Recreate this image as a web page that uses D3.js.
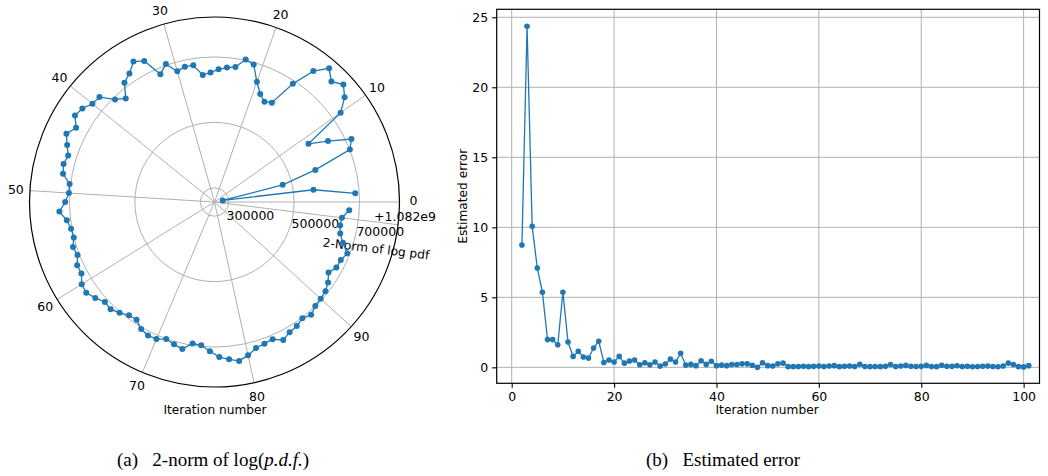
<!DOCTYPE html>
<html lang="en">
<head>
<meta charset="utf-8">
<title>2-norm of log pdf / Estimated error</title>
<style>
    body { margin: 0; background: #fff; }
    svg text { font-family: "DejaVu Sans", sans-serif; fill: #000; }
    .caption { font-family: "Liberation Serif", "Times New Roman", serif; }
</style>
<script src="https://d3js.org/d3.v7.min.js"></script>
</head>
<body>
<svg></svg>
<script>
    const width = 1048;
    const height = 476;

    // ---- data ----
    // iterations shown around the polar plot
    const polarIters = d3.range(1, 102);
    // 2-norm of log pdf, minus the 1.082e9 offset, one value per iteration 1..101
    const normOffset = 1.082e9;
    const normValues = [
        687800, 561500, 282300, 471600, 580100, 700600, 717500, 650500, 594500, 729100,
        767300, 789900, 770100, 795100, 758100, 690200, 607400, 599400, 615300, 646500,
        693900, 702800, 674600, 669400, 662700, 652600, 646500, 679500, 680200, 672500,
        703700, 681100, 738600, 752300, 727600, 713500, 673700, 693600, 732700, 735800,
        751700, 758400, 737000, 755100, 739800, 726300, 732500, 727900, 703100, 702500,
        713200, 731800, 711600, 702800, 700300, 710700, 705800, 719000, 718400, 734300,
        737000, 724500, 710100, 712900, 702800, 690500, 688100, 705200, 712900, 711900,
        700900, 709200, 716500, 694500, 696700, 713200, 730900, 739800, 748300, 736700,
        720800, 715900, 712300, 728200, 716200, 711900, 702500, 710700, 699400, 696000,
        692100, 682000, 666700, 679500, 681700, 692100, 668800, 653000, 647400, 649300,
        669400
    ];
    const thetaTicks = d3.range(0, 101, 10);
    const thetaLabels = ["0", "10", "20", "30", "40", "50", "60", "70", "80", "90", ""];
    const radialTicks = [300000, 500000, 700000];

    // estimated error, iterations 2..101
    const errorIters = d3.range(2, 102);
    const errorValues = [
        8.74, 24.36, 10.07, 7.09, 5.36, 1.98, 1.98, 1.61, 5.36, 1.81,
        0.78, 1.14, 0.74, 0.66, 1.38, 1.86, 0.35, 0.52, 0.38, 0.78,
        0.30, 0.45, 0.52, 0.19, 0.33, 0.19, 0.38, 0.09, 0.24, 0.59,
        0.38, 1.00, 0.16, 0.21, 0.12, 0.47, 0.21, 0.43, 0.12, 0.16,
        0.12, 0.20, 0.20, 0.25, 0.25, 0.15, 0.00, 0.33, 0.12, 0.10,
        0.25, 0.30, 0.05, 0.05, 0.06, 0.08, 0.05, 0.07, 0.10, 0.06,
        0.10, 0.12, 0.05, 0.08, 0.10, 0.06, 0.22, 0.06, 0.05, 0.06,
        0.05, 0.08, 0.20, 0.06, 0.10, 0.14, 0.08, 0.06, 0.07, 0.14,
        0.06, 0.05, 0.15, 0.08, 0.07, 0.11, 0.06, 0.08, 0.04, 0.06,
        0.08, 0.09, 0.06, 0.04, 0.10, 0.30, 0.20, 0.05, 0.03, 0.12
    ];
    const errXTicks = [0, 20, 40, 60, 80, 100];
    const errYTicks = [0, 5, 10, 15, 20, 25];

    const blue = "#1f77b4";
    const gridColor = "#b0b0b0";

    const svg = d3.select("svg").attr("width", width).attr("height", height);
    svg.append("rect").attr("width", width).attr("height", height).attr("fill", "#fff");

    // ---- (a) polar plot ----
    const cx = 214.5, cy = 202, R = 185;
    const polar = svg.append("g");

    const theta = d3.scaleLinear().domain([0, 102]).range([0, 2 * Math.PI]);
    const rScale = d3.scaleLinear()
        .domain([normOffset + 256600, normOffset + 822300])
        .range([0, R]);

    const px = (t, r) => cx + r * Math.cos(theta(t));
    const py = (t, r) => cy - r * Math.sin(theta(t));

    polar.selectAll(".rgrid")
        .data(radialTicks)
        .enter().append("circle")
        .attr("cx", cx).attr("cy", cy)
        .attr("r", d => rScale(normOffset + d))
        .attr("fill", "none")
        .attr("stroke", gridColor)
        .attr("stroke-width", 1);

    polar.selectAll(".tgrid")
        .data(thetaTicks)
        .enter().append("line")
        .attr("x1", cx).attr("y1", cy)
        .attr("x2", d => px(d, R)).attr("y2", d => py(d, R))
        .attr("stroke", gridColor)
        .attr("stroke-width", 1);

    polar.append("circle")
        .attr("cx", cx).attr("cy", cy).attr("r", R)
        .attr("fill", "none")
        .attr("stroke", "#000")
        .attr("stroke-width", 1.2);

    polar.selectAll(".tlabel")
        .data(thetaTicks)
        .enter().append("text")
        .attr("x", d => px(d, R + 14))
        .attr("y", d => py(d, R + 14) - (d === 0 ? 1.5 : 0))
        .attr("text-anchor", "middle")
        .attr("dominant-baseline", "central")
        .style("font-size", "12.5px")
        .text((d, i) => thetaLabels[i]);

    // radial tick labels sit along the last grid spoke
    polar.selectAll(".rlabel")
        .data(radialTicks)
        .enter().append("text")
        .attr("x", d => px(100, rScale(normOffset + d)) - 2)
        .attr("y", d => py(100, rScale(normOffset + d)) + 11.5)
        .attr("dominant-baseline", "central")
        .style("font-size", "12.5px")
        .text(d => d);

    polar.append("text")
        .attr("x", 436).attr("y", 216.5)
        .attr("text-anchor", "end")
        .attr("dominant-baseline", "central")
        .style("font-size", "12.5px")
        .text("+1.082e9");

    polar.append("text")
        .attr("transform", "translate(376,249) rotate(7)")
        .attr("text-anchor", "middle")
        .attr("dominant-baseline", "central")
        .style("font-size", "12.2px")
        .text("2-Norm of log pdf");

    polar.append("text")
        .attr("x", 215).attr("y", 410)
        .attr("text-anchor", "middle")
        .attr("dominant-baseline", "central")
        .style("font-size", "12.2px")
        .text("Iteration number");

    const polarData = polarIters.map((t, i) => ({t: t, v: normOffset + normValues[i]}));
    const polarLine = d3.line()
        .x(d => px(d.t, rScale(d.v)))
        .y(d => py(d.t, rScale(d.v)));

    polar.append("path")
        .datum(polarData)
        .attr("d", polarLine)
        .attr("fill", "none")
        .attr("stroke", blue)
        .attr("stroke-width", 1.3);

    polar.selectAll(".pdot")
        .data(polarData)
        .enter().append("circle")
        .attr("cx", d => px(d.t, rScale(d.v)))
        .attr("cy", d => py(d.t, rScale(d.v)))
        .attr("r", 3)
        .attr("fill", blue);

    // ---- (b) estimated error ----
    const plotL = 496.7, plotR = 1039.5, plotT = 9.3, plotB = 383.3;
    const x = d3.scaleLinear().domain([-2.93, 103.1]).range([plotL, plotR]);
    const y = d3.scaleLinear().domain([-1.14, 25.57]).range([plotB, plotT]);
    const err = svg.append("g");

    err.selectAll(".xgrid")
        .data(errXTicks)
        .enter().append("line")
        .attr("x1", d => x(d)).attr("x2", d => x(d))
        .attr("y1", plotT).attr("y2", plotB)
        .attr("stroke", gridColor).attr("stroke-width", 1);

    err.selectAll(".ygrid")
        .data(errYTicks)
        .enter().append("line")
        .attr("x1", plotL).attr("x2", plotR)
        .attr("y1", d => y(d)).attr("y2", d => y(d))
        .attr("stroke", gridColor).attr("stroke-width", 1);

    const xAxis = err.append("g")
        .attr("transform", `translate(0,${plotB})`)
        .call(d3.axisBottom(x).tickValues(errXTicks).tickSize(4.5).tickPadding(4));
    const yAxis = err.append("g")
        .attr("transform", `translate(${plotL},0)`)
        .call(d3.axisLeft(y).tickValues(errYTicks).tickSize(4.5).tickPadding(4));
    [xAxis, yAxis].forEach(a => {
        a.select(".domain").remove();
        a.selectAll("line").attr("stroke", "#000").attr("stroke-width", 1.1);
        a.selectAll("text").style("font-family", "DejaVu Sans").style("font-size", "12.5px").attr("fill", "#000");
    });

    err.append("rect")
        .attr("x", plotL).attr("y", plotT)
        .attr("width", plotR - plotL).attr("height", plotB - plotT)
        .attr("fill", "none")
        .attr("stroke", "#000")
        .attr("stroke-width", 1.2);

    const errData = errorIters.map((t, i) => ({t: t, v: errorValues[i]}));
    err.append("path")
        .datum(errData)
        .attr("d", d3.line().x(d => x(d.t)).y(d => y(d.v)))
        .attr("fill", "none")
        .attr("stroke", blue)
        .attr("stroke-width", 1.3);

    err.selectAll(".edot")
        .data(errData)
        .enter().append("circle")
        .attr("cx", d => x(d.t))
        .attr("cy", d => y(d.v))
        .attr("r", 2.8)
        .attr("fill", blue);

    err.append("text")
        .attr("x", (plotL + plotR) / 2 - 1).attr("y", 410)
        .attr("text-anchor", "middle")
        .attr("dominant-baseline", "central")
        .style("font-size", "12.2px")
        .text("Iteration number");

    err.append("text")
        .attr("transform", `translate(463,${(plotT + plotB) / 2}) rotate(-90)`)
        .attr("text-anchor", "middle")
        .attr("dominant-baseline", "central")
        .style("font-size", "12.2px")
        .text("Estimated error");

    // ---- captions ----
    const capA = svg.append("text").attr("class", "caption")
        .attr("x", 117).attr("y", 466).style("font-size", "19px");
    capA.append("tspan").text("(a)\u2002 2-norm of log(");
    capA.append("tspan").style("font-style", "italic").text("p.d.f.");
    capA.append("tspan").text(")");

    svg.append("text").attr("class", "caption")
        .attr("x", 646).attr("y", 466).style("font-size", "19px")
        .text("(b)\u2002 Estimated error");
</script>
</body>
</html>
